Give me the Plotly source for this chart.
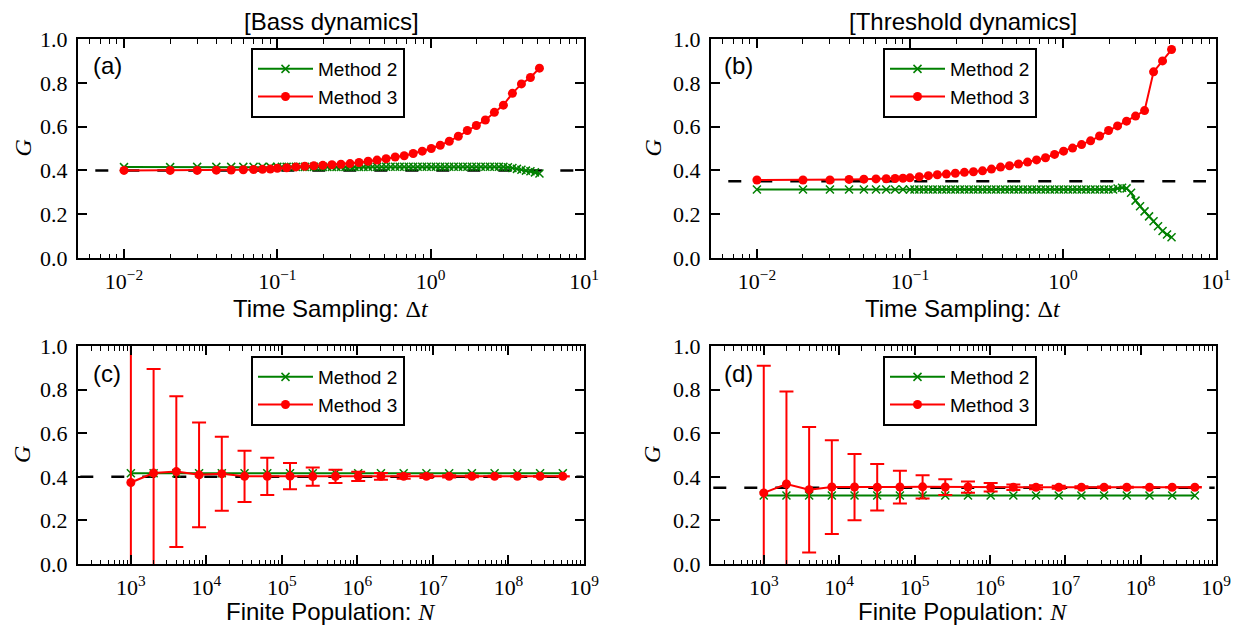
import plotly.graph_objects as go

# ---------------- data ----------------
dt_m2 = [0.01, 0.02, 0.03, 0.04, 0.05, 0.06, 0.07, 0.08, 0.09, 0.1,
         0.107, 0.115, 0.123, 0.132, 0.141, 0.151, 0.162, 0.173, 0.185, 0.198,
         0.212, 0.227, 0.243, 0.26, 0.278, 0.298, 0.319, 0.341, 0.365, 0.391,
         0.418, 0.447, 0.479, 0.512, 0.548, 0.587, 0.628, 0.672, 0.719, 0.769,
         0.823, 0.881, 0.943, 1.009, 1.08, 1.155, 1.236, 1.323, 1.416, 1.515,
         1.621, 1.734, 1.856, 1.986, 2.125, 2.274, 2.433, 2.603, 2.786, 2.981,
         3.19, 3.413, 3.652, 3.908, 4.181, 4.474, 4.787, 5.122]
dt_m3 = [0.01, 0.02, 0.03, 0.04, 0.05, 0.06, 0.07, 0.08, 0.09, 0.1,
         0.115, 0.132, 0.151, 0.173, 0.198, 0.227, 0.26, 0.298, 0.341, 0.391,
         0.447, 0.512, 0.587, 0.672, 0.769, 0.881, 1.009, 1.155, 1.323, 1.515,
         1.734, 1.986, 2.274, 2.603, 2.981, 3.413, 3.908, 4.474, 5.122]

bass_dt_m2 = [0.415, 0.415, 0.416, 0.416, 0.416, 0.416, 0.416, 0.416, 0.416, 0.416,
              0.416, 0.416, 0.416, 0.416, 0.416, 0.416, 0.416, 0.416, 0.416, 0.416,
              0.416, 0.416, 0.416, 0.416, 0.416, 0.416, 0.416, 0.416, 0.416, 0.416,
              0.417, 0.417, 0.417, 0.417, 0.417, 0.417, 0.417, 0.417, 0.417, 0.417,
              0.417, 0.417, 0.417, 0.417, 0.417, 0.417, 0.417, 0.417, 0.417, 0.417,
              0.417, 0.417, 0.417, 0.417, 0.417, 0.417, 0.417, 0.417, 0.417, 0.416,
              0.414, 0.411, 0.407, 0.403, 0.399, 0.396, 0.391, 0.386]
bass_dt_m3 = [0.400, 0.400, 0.400, 0.401, 0.402, 0.403, 0.404, 0.405, 0.406, 0.410,
              0.412, 0.416, 0.419, 0.421, 0.423, 0.426, 0.428, 0.431, 0.436, 0.442,
              0.447, 0.453, 0.461, 0.467, 0.477, 0.488, 0.500, 0.515, 0.533, 0.556,
              0.582, 0.605, 0.630, 0.665, 0.698, 0.752, 0.795, 0.824, 0.867]

thr_dt_m2 = [0.313, 0.313, 0.313, 0.313, 0.313, 0.313, 0.313, 0.313, 0.313, 0.313,
             0.313, 0.313, 0.313, 0.313, 0.313, 0.313, 0.313, 0.313, 0.313, 0.313,
             0.313, 0.313, 0.313, 0.313, 0.313, 0.313, 0.313, 0.313, 0.313, 0.313,
             0.313, 0.313, 0.313, 0.313, 0.313, 0.313, 0.313, 0.313, 0.313, 0.313,
             0.313, 0.313, 0.313, 0.313, 0.313, 0.313, 0.313, 0.313, 0.313, 0.313,
             0.313, 0.313, 0.313, 0.313, 0.313, 0.317, 0.321, 0.318, 0.298, 0.262,
             0.236, 0.213, 0.190, 0.168, 0.145, 0.123, 0.107, 0.095]
thr_dt_m3 = [0.356, 0.356, 0.356, 0.359, 0.360, 0.361, 0.362, 0.363, 0.364, 0.366,
             0.371, 0.376, 0.380, 0.383, 0.387, 0.391, 0.394, 0.398, 0.406, 0.415,
             0.421, 0.429, 0.438, 0.448, 0.458, 0.473, 0.488, 0.502, 0.518, 0.535,
             0.557, 0.582, 0.603, 0.625, 0.648, 0.673, 0.850, 0.900, 0.952]

pop_N = [1000, 2000, 4000, 8000, 16000, 32000, 64000, 128000, 256000, 512000,
         1024000, 2048000, 4096000, 8192000, 16384000, 32768000, 65536000,
         131072000, 262144000, 524288000]

bass_N_m2 = [0.416, 0.416, 0.416, 0.416, 0.416, 0.416, 0.416, 0.416, 0.416, 0.416,
             0.416, 0.416, 0.416, 0.416, 0.416, 0.416, 0.416, 0.416, 0.416, 0.416]
bass_N_m3 = [0.374, 0.417, 0.424, 0.409, 0.414, 0.402, 0.402, 0.403, 0.401, 0.402,
             0.402, 0.402, 0.402, 0.402, 0.402, 0.402, 0.402, 0.402, 0.402, 0.402]
bass_N_m3_err = [0.68, 0.477, 0.346, 0.24, 0.17, 0.118, 0.085, 0.06, 0.042, 0.03,
                 0.021, 0.015, 0.011, 0.008, 0.0055, 0.004, 0.003, 0.002, 0.0014, 0.001]

thr_N_m2 = [0.314, 0.314, 0.314, 0.314, 0.314, 0.314, 0.314, 0.314, 0.314, 0.314,
            0.314, 0.314, 0.314, 0.314, 0.314, 0.314, 0.314, 0.314, 0.314, 0.314]
thr_N_m3 = [0.326, 0.367, 0.341, 0.353, 0.353, 0.352, 0.353, 0.354, 0.353, 0.353,
            0.352, 0.352, 0.352, 0.352, 0.352, 0.352, 0.352, 0.352, 0.352, 0.352]
thr_N_m3_err = [0.583, 0.424, 0.288, 0.215, 0.152, 0.107, 0.075, 0.053, 0.036, 0.026,
                0.019, 0.013, 0.009, 0.0065, 0.0046, 0.0033, 0.0023, 0.0016, 0.0012, 0.0008]

ref_bass = [0.4, 0.4]
ref_thr = [0.35, 0.35]
ref_dt_x = [0.0065, 8.6]
ref_N_x = [214, 9.6e8]

dt_tickvals = [0.01, 0.1, 1, 10]
dt_ticktext = ["10<sup>−2</sup>", "10<sup>−1</sup>", "10<sup>0</sup>", "10<sup>1</sup>"]
N_tickvals = [1e3, 1e4, 1e5, 1e6, 1e7, 1e8, 1e9]
N_ticktext = ["10<sup>3</sup>", "10<sup>4</sup>", "10<sup>5</sup>", "10<sup>6</sup>",
              "10<sup>7</sup>", "10<sup>8</sup>", "10<sup>9</sup>"]
y_tickvals = [0.0, 0.2, 0.4, 0.6, 0.8, 1.0]
y_ticktext = ["0.0", "0.2", "0.4", "0.6", "0.8", "1.0"]

panel_titles = ["[Bass dynamics]", "[Threshold dynamics]"]
panel_labels = ["(a)", "(b)", "(c)", "(d)"]
legend_names = ["Method 2", "Method 3"]

dt_minor = [m * 10 ** e for e in (-3, -2, -1, 0) for m in range(2, 10) if 0.005 <= m * 10 ** e <= 10]
N_minor = [m * 10 ** e for e in range(2, 9) for m in range(2, 10) if 199 <= m * 10 ** e <= 1e9]

# ---------------- figure ----------------
W, H = 1241, 628
OFF = 8  # page body margin: the figure is drawn 8 px right/down in the window
GREEN = "#008000"
RED = "#ff0000"
SANS = "Liberation Sans"
SERIF = "Liberation Serif"


def px(x):
    return (x - OFF) / W


def py(y):
    return 1 - (y - OFF) / H


xdom_left = [px(78), px(584)]
xdom_right = [px(711), px(1216)]
ydom_top = [py(258), py(39)]
ydom_bot = [py(564), py(346)]

fig = go.Figure()

panels = [
    dict(k="", xd=xdom_left, yd=ydom_top, x2=dt_m2, y2=bass_dt_m2, x3=dt_m3, y3=bass_dt_m3,
         err=None, ref=ref_bass, refx=ref_dt_x, leg="legend"),
    dict(k="2", xd=xdom_right, yd=ydom_top, x2=dt_m2, y2=thr_dt_m2, x3=dt_m3, y3=thr_dt_m3,
         err=None, ref=ref_thr, refx=ref_dt_x, leg="legend2"),
    dict(k="3", xd=xdom_left, yd=ydom_bot, x2=pop_N, y2=bass_N_m2, x3=pop_N, y3=bass_N_m3,
         err=bass_N_m3_err, ref=ref_bass, refx=ref_N_x, leg="legend3"),
    dict(k="4", xd=xdom_right, yd=ydom_bot, x2=pop_N, y2=thr_N_m2, x3=pop_N, y3=thr_N_m3,
         err=thr_N_m3_err, ref=ref_thr, refx=ref_N_x, leg="legend4"),
]

for i, p in enumerate(panels):
    xa = "x" + p["k"]
    ya = "y" + p["k"]
    fig.add_trace(go.Scatter(x=p["refx"], y=p["ref"], mode="lines", xaxis=xa, yaxis=ya,
                             line=dict(color="black", width=2.5, dash="13px,18px"),
                             showlegend=False, hoverinfo="skip"))
    fig.add_trace(go.Scatter(x=p["x2"], y=p["y2"], mode="lines+markers", xaxis=xa, yaxis=ya,
                             name=legend_names[0], legend=p["leg"],
                             line=dict(color=GREEN, width=2),
                             marker=dict(symbol="x-thin", size=8, color=GREEN,
                                         line=dict(color=GREEN, width=1.5))))
    red = dict(x=p["x3"], y=p["y3"], mode="lines+markers", xaxis=xa, yaxis=ya,
               name=legend_names[1], legend=p["leg"],
               line=dict(color=RED, width=2),
               marker=dict(symbol="circle", size=9, color=RED, line=dict(width=0)))
    if p["err"] is not None:
        red["error_y"] = dict(type="data", array=p["err"], visible=True, color=RED,
                              thickness=2, width=7)
    fig.add_trace(go.Scatter(**red))

    is_dt = p["refx"] is ref_dt_x
    xaxis = dict(type="log", domain=p["xd"], anchor=ya,
                 range=[-2.3, 1] if is_dt else [2.3, 9],
                 tickvals=dt_tickvals if is_dt else N_tickvals,
                 ticktext=dt_ticktext if is_dt else N_ticktext,
                 ticks="inside", ticklen=9, tickwidth=1.5, tickcolor="black",
                 minor=dict(tickvals=dt_minor if is_dt else N_minor, ticks="inside",
                            ticklen=4.5, tickwidth=1.2, tickcolor="black", showgrid=False),
                 showline=True, linewidth=2, linecolor="black", mirror="ticks",
                 showgrid=False, zeroline=False, automargin=False,
                 tickfont=dict(family=SERIF, size=22, color="black"),
                 ticklabelstandoff=3)
    yaxis = dict(domain=p["yd"], anchor=xa, range=[0, 1],
                 tickvals=y_tickvals, ticktext=y_ticktext,
                 ticks="inside", ticklen=9, tickwidth=1.5, tickcolor="black",
                 showline=True, linewidth=2, linecolor="black", mirror="ticks",
                 showgrid=False, zeroline=False, automargin=False,
                 tickfont=dict(family=SERIF, size=22, color="black"),
                 ticklabelstandoff=4)
    fig.layout["xaxis" + p["k"]] = xaxis
    fig.layout["yaxis" + p["k"]] = yaxis

leg_common = dict(bgcolor="white", bordercolor="black", borderwidth=2,
                  font=dict(family=SANS, size=19, color="black"),
                  xanchor="left", yanchor="top", traceorder="normal", itemwidth=55,
                  tracegroupgap=0)
fig.update_layout(
    legend=dict(x=px(251), y=py(48), **leg_common),
    legend2=dict(x=px(883), y=py(48), **leg_common),
    legend3=dict(x=px(251), y=py(356), **leg_common),
    legend4=dict(x=px(883), y=py(356), **leg_common),
)

annotations = []
for t, cx in zip(panel_titles, [331, 963]):
    annotations.append(dict(text=t, x=px(cx), y=py(21.5), xref="paper", yref="paper",
                            xanchor="center", yanchor="middle", showarrow=False,
                            font=dict(family=SANS, size=24, color="black")))
xt_dt = "Time Sampling: <span style='font-family:Liberation Serif'>Δ<i>t</i></span>"
xt_N = "Finite Population: <span style='font-family:Liberation Serif'><i>N</i></span>"
for t, cx, cy in [(xt_dt, 331, 309), (xt_dt, 963, 309), (xt_N, 331, 611), (xt_N, 963, 611)]:
    annotations.append(dict(text=t, x=px(cx), y=py(cy), xref="paper", yref="paper",
                            xanchor="center", yanchor="middle", showarrow=False,
                            font=dict(family=SANS, size=24, color="black")))
for cx, cy in [(22, 148.5), (652, 148.5), (22, 455), (652, 455)]:
    annotations.append(dict(text="<i>G</i>", x=px(cx), y=py(cy), xref="paper", yref="paper",
                            xanchor="center", yanchor="middle", showarrow=False, textangle=-90,
                            font=dict(family=SERIF, size=24, color="black")))
for t, cx, cy in zip(panel_labels, [107, 738, 107, 738], [66, 66, 373, 373]):
    annotations.append(dict(text=t, x=px(cx), y=py(cy), xref="paper", yref="paper",
                            xanchor="center", yanchor="middle", showarrow=False,
                            font=dict(family=SANS, size=24, color="black")))

fig.update_layout(width=W, height=H, margin=dict(l=0, r=0, t=0, b=0, autoexpand=False),
                  paper_bgcolor="white", plot_bgcolor="white",
                  annotations=annotations, showlegend=True)

fig.write_html("out.html")
